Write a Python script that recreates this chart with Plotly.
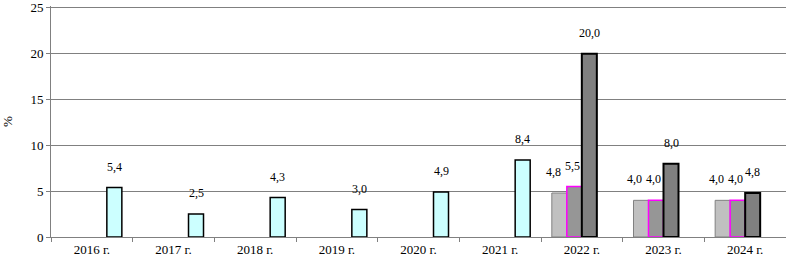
import plotly.graph_objects as go

categories = ["2016 г.", "2017 г.", "2018 г.", "2019 г.", "2020 г.", "2021 г.", "2022 г.", "2023 г.", "2024 г."]
series_a = [None, None, None, None, None, None, 4.8, 4.0, 4.0]
series_b = [None, None, None, None, None, None, 5.5, 4.0, 4.0]
series_c = [None, None, None, None, None, None, 20.0, 8.0, 4.8]
series_d = [5.4, 2.5, 4.3, 3.0, 4.9, 8.4, None, None, None]
y_ticks = [0, 5, 10, 15, 20, 25]

FONT = "Liberation Serif"
W, H = 786, 258
ML, MR, MT, MB = 51, 0, 6, 21
BARGAP = 0.265

# fill, border colour, border width, label nudge (px)
styles = [
    ("#C0C0C0", "#808080", 1, -6),
    ("#969696", "#FF00FF", 1.5, -2),
    ("#808080", "#000000", 2, 0),
    ("#CCFFFF", "#000000", 1.5, 0),
]
all_series = [series_a, series_b, series_c, series_d]

fig = go.Figure()
for vals, (fill, lc, lw, _) in zip(all_series, styles):
    fig.add_trace(go.Bar(
        x=categories, y=vals,
        marker=dict(color=fill, line=dict(color=lc, width=lw)),
        showlegend=False, hoverinfo="x+y",
    ))

# data labels (above each bar, following the grouped slot of its series)
n = len(all_series)
slot_px = (W - ML - MR) / len(categories) * (1 - BARGAP) / n
for i, (vals, st) in enumerate(zip(all_series, styles)):
    for cat, v in zip(categories, vals):
        if v is None:
            continue
        fig.add_annotation(
            x=cat, y=v, text=f"{v:.1f}".replace(".", ","),
            showarrow=False, xanchor="center", yanchor="middle",
            xshift=(i - (n - 1) / 2) * slot_px + st[3], yshift=21,
            font=dict(family=FONT, size=12, color="black"),
        )

fig.update_layout(
    template="none",
    width=W, height=H,
    margin=dict(l=ML, r=MR, t=MT, b=MB, autoexpand=False),
    barmode="group", bargap=BARGAP, bargroupgap=0,
    plot_bgcolor="white", paper_bgcolor="white",
    separators=", ",
    font=dict(family=FONT, size=13, color="black"),
    xaxis=dict(
        type="category", tickson="boundaries",
        ticks="outside", ticklen=4, tickcolor="#808080",
        showline=True, linecolor="#808080", linewidth=1,
        showgrid=False, automargin=False,
        tickfont=dict(family=FONT, size=13, color="black"),
    ),
    yaxis=dict(
        range=[0, 25.2], tickvals=y_ticks,
        ticks="outside", ticklen=4, tickcolor="#808080",
        showline=True, linecolor="#808080", linewidth=1,
        showgrid=True, gridcolor="#808080", gridwidth=1,
        zeroline=False, automargin=False, ticklabeloverflow="allow",
        tickfont=dict(family=FONT, size=13, color="black"),
        title=dict(text="%", font=dict(family=FONT, size=13, color="black"), standoff=14),
    ),
)

fig.write_html("out.html", config={"displayModeBar": False},
               post_script="document.body.style.margin='0';document.body.style.padding='0';")
